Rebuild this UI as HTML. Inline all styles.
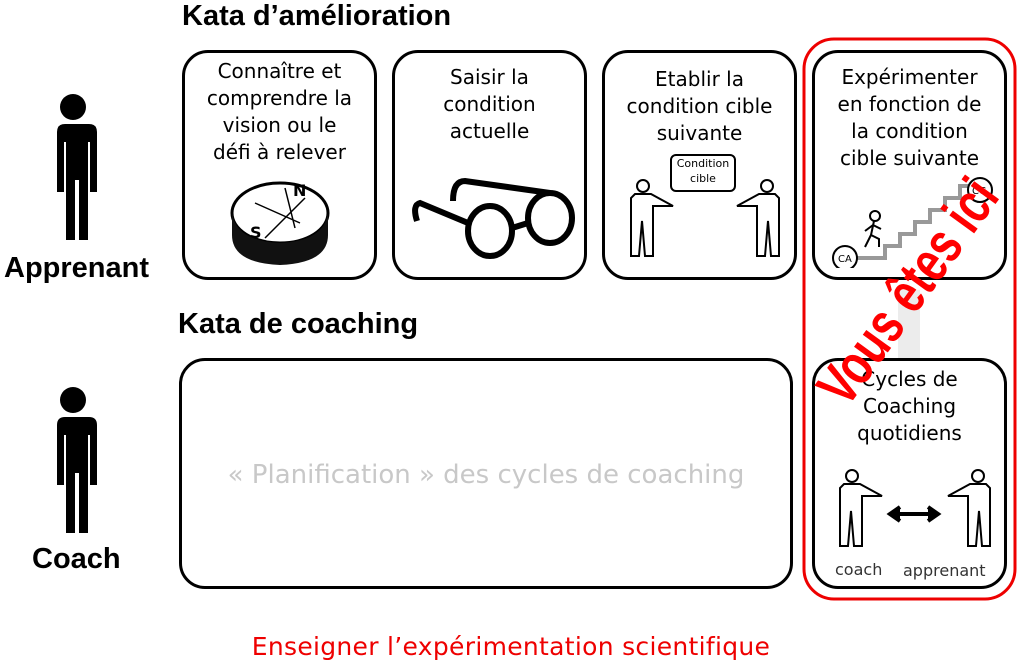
<!DOCTYPE html>
<html><head><meta charset="utf-8"><style>
body{margin:0;width:1022px;height:670px;background:#fff;position:relative;overflow:hidden;font-family:"DejaVu Sans","Liberation Sans",sans-serif}
.a{position:absolute}
.box{position:absolute;border:3px solid #000;border-radius:26px;box-sizing:border-box;background:#fff}
.t{position:absolute;left:0;right:0;text-align:center;font-size:20px;line-height:27px;color:#000}
.h{position:absolute;font-family:"Liberation Sans",sans-serif;font-weight:bold;font-size:29px;color:#000}
</style></head><body>
<div class="h" style="left:182px;top:0px">Kata d’amélioration</div>
<div class="h" style="left:178px;top:308px">Kata de coaching</div>
<div class="h" style="left:4px;top:252px">Apprenant</div>
<div class="h" style="left:32px;top:543px">Coach</div>

<svg class="a" style="left:0;top:0" width="1022" height="670">
 <g fill="#000">
  <circle cx="73" cy="107" r="13"/>
  <path d="M57 124h32q8 0 8 8v60h-7v-50h-2v98h-9v-60h-4v60h-9v-98h-2v50h-7v-60q0-8 8-8z"/>
  <circle cx="73" cy="400" r="13"/>
  <path d="M57 417h32q8 0 8 8v60h-7v-50h-2v98h-9v-60h-4v60h-9v-98h-2v50h-7v-60q0-8 8-8z"/>
 </g>
 <rect x="804" y="39" width="211" height="560" rx="30" fill="none" stroke="#e00" stroke-width="3"/>
</svg>

<div class="box" style="left:182px;top:50px;width:195px;height:230px"><div class="t" style="top:5px">Connaître et<br>comprendre la<br>vision ou le<br>défi à relever</div>
<svg class="a" style="left:40px;top:125px" width="110" height="95"><ellipse cx="55" cy="35" rx="48" ry="30" fill="#fff" stroke="#000" stroke-width="3"/><path d="M7 35v22q0 28 48 30q48-2 48-30v-22q-4 28-48 30q-44-2-48-30z" fill="#111"/><path d="M30 25l45 20M60 10l10 40M40 60l40-40" stroke="#000" stroke-width="1.5"/><text x="68" y="18" font-size="16" font-weight="bold">N</text><text x="25" y="60" font-size="16" font-weight="bold">S</text></svg></div>
<div class="box" style="left:392px;top:50px;width:195px;height:230px"><div class="t" style="top:11px">Saisir la<br>condition<br>actuelle</div>
<svg class="a" style="left:10px;top:120px" width="180" height="90"><g fill="none" stroke="#000" stroke-width="6"><ellipse cx="85" cy="58" rx="22" ry="25"/><ellipse cx="145" cy="45" rx="22" ry="25"/><path d="M107 55l16-5M63 50L15 30q-8 2-3 18M145 20L60 8q-12 0-12 20"/></g></svg></div>
<div class="box" style="left:602px;top:50px;width:195px;height:230px"><div class="t" style="top:13px">Etablir la<br>condition cible<br>suivante</div>
<div class="a" style="left:65px;top:101px;width:62px;height:34px;border:2px solid #000;border-radius:6px;font-size:11px;line-height:15px;text-align:center">Condition<br>cible</div>
<svg class="a" style="left:20px;top:125px" width="160" height="90"><g fill="#fff" stroke="#000" stroke-width="2"><circle cx="18" cy="8" r="6"/><path d="M10 16h16l22 12h-20v50h-8l-3-35-3 35h-8v-58z"/><circle cx="142" cy="8" r="6"/><path d="M150 16h-16l-22 12h20v50h8l3-35 3 35h8v-58z"/></g></svg></div>
<div class="box" style="left:812px;top:50px;width:195px;height:230px"><div class="t" style="top:11px">Expérimenter<br>en fonction de<br>la condition<br>cible suivante</div>
<svg class="a" style="left:10px;top:115px" width="180" height="100"><path d="M30 90h30v-12h15v-12h15v-12h15v-12h15v-12h15v-12h25" fill="none" stroke="#999" stroke-width="4"/><circle cx="20" cy="90" r="12" fill="#fff" stroke="#000" stroke-width="2"/><text x="13" y="94" font-size="10">CA</text><circle cx="155" cy="22" r="12" fill="#fff" stroke="#000" stroke-width="2"/><text x="147" y="26" font-size="10">CC</text><g stroke="#000" stroke-width="2" fill="none"><circle cx="50" cy="48" r="5"/><path d="M49 53l-3 14-6 12M46 67l8 4v8M48 57l-8 6M48 57l8 4"/></g></svg></div>

<div class="box" style="left:179px;top:358px;width:614px;height:231px"><div class="a" style="left:0;right:0;top:99px;text-align:center;font-size:26px;color:#c8c8c8">« Planification » des cycles de coaching</div></div>
<div class="a" style="left:898px;top:290px;width:22px;height:70px;background:#ececec"></div>
<div class="box" style="left:812px;top:358px;width:195px;height:231px"><div class="t" style="top:5px">Cycles de<br>Coaching<br>quotidiens</div>
<svg class="a" style="left:15px;top:105px" width="170" height="85"><g fill="#fff" stroke="#000" stroke-width="2"><circle cx="22" cy="10" r="6"/><path d="M14 18h16l22 12h-20v50h-8l-3-35-3 35h-8v-58z"/><circle cx="148" cy="10" r="6"/><path d="M156 18h-16l-22 12h20v50h8l3-35 3 35h8v-58z"/></g><path d="M62 48h44M70 41l-10 7 10 7M98 41l10 7-10 7" stroke="#000" stroke-width="4" fill="#000"/></svg>
<div class="a" style="left:20px;top:199px;font-size:16px;color:#333">coach</div><div class="a" style="left:88px;top:200px;font-size:16px;color:#333">apprenant</div></div>

<div class="a" style="left:906px;top:295px;width:0;height:0"><div class="a" style="left:-170px;top:-34px;width:340px;text-align:center;font-family:'Liberation Sans',sans-serif;font-weight:bold;font-size:58px;line-height:68px;color:#f00;transform:rotate(-54deg) scaleX(0.75);white-space:nowrap">Vous êtes ici</div></div>

<div class="a" style="left:0;width:1022px;top:632px;text-align:center;font-size:25px;color:#e00;letter-spacing:0.3px">Enseigner l’expérimentation scientifique</div>
</body></html>
